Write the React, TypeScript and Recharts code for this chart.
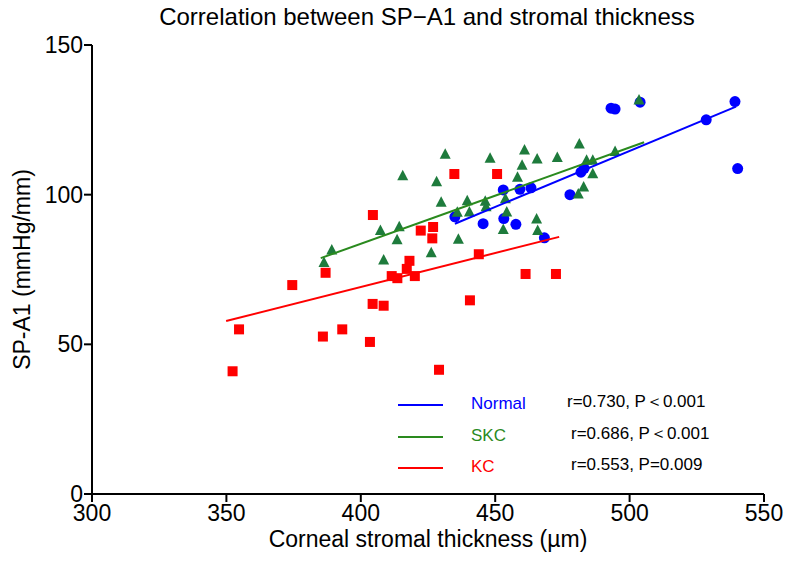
import { ScatterChart, Scatter, XAxis, YAxis } from 'recharts';

// Normal (blue circles)
const normalX = [435.0, 445.5, 453.0, 453.2, 457.7, 459.2, 463.3, 468.3, 477.8, 481.9, 483.1, 493.1, 494.6, 503.9, 528.5, 539.2, 540.2];
const normalY = [92.6, 90.3, 101.6, 92.0, 90.1, 101.8, 102.3, 85.6, 100.0, 107.5, 108.8, 128.9, 128.6, 130.9, 125.0, 131.1, 108.7];

// SKC (green triangles)
const skcX = [386.3, 389.2, 407.3, 408.5, 413.5, 414.3, 415.6, 426.2, 428.2, 431.4, 429.9, 436.3, 435.9, 439.6, 440.4, 446.3, 446.6, 448.1, 453.0, 453.8, 454.3, 458.3, 460.0, 460.9, 465.4, 465.8, 465.6, 473.1, 480.9, 481.3, 482.9, 484.0, 486.3, 486.3, 494.6, 503.5];
const skcY = [77.3, 81.5, 88.0, 78.2, 84.9, 89.3, 106.3, 80.6, 104.3, 113.5, 97.5, 85.1, 94.1, 98.0, 94.2, 97.8, 96.0, 112.2, 88.4, 98.6, 94.2, 105.8, 109.8, 114.9, 91.9, 88.0, 111.9, 112.4, 100.2, 116.9, 102.6, 111.5, 111.5, 107.0, 114.4, 131.6];

// KC (red squares)
const kcX = [352.3, 354.7, 374.5, 385.9, 386.9, 393.1, 403.4, 404.5, 404.4, 408.5, 411.5, 413.6, 417.1, 418.1, 420.1, 422.3, 426.9, 426.6, 429.1, 434.8, 440.6, 443.9, 450.7, 461.3, 472.6];
const kcY = [41.0, 55.0, 69.8, 52.6, 73.9, 55.0, 50.8, 93.2, 63.5, 62.9, 72.8, 72.1, 75.2, 77.9, 72.8, 88.0, 89.2, 85.4, 41.5, 106.9, 64.7, 80.1, 106.9, 73.5, 73.5];

// fitted line end points
const normalFitX = [435.0, 539.6];
const normalFitY = [90.3, 129.4];
const skcFitX = [385.1, 505.4];
const skcFitY = [78.8, 117.5];
const kcFitX = [349.9, 473.8];
const kcFitY = [57.8, 85.9];

const xTicks = [300, 350, 400, 450, 500, 550];
const yTicks = [0, 50, 100, 150];

const groups = ['Normal', 'SKC', 'KC'];
const stats = ['r=0.730, P＜0.001', 'r=0.686, P＜0.001', 'r=0.553, P=0.009'];

const BLUE = '#0000FF';
const GREEN = '#1E7B3C';
const GREEN_LINE = '#2A8A1E';
const RED = '#FF0000';

const zip = (xs: number[], ys: number[]) => xs.map((x, i) => ({ x, y: ys[i] }));

const CircleDot = (p: any) => <circle cx={p.cx} cy={p.cy} r={5.5} fill={BLUE} />;
const SquareDot = (p: any) => <rect x={p.cx - 5} y={p.cy - 5} width={10} height={10} fill={RED} />;
const TriangleDot = (p: any) => (
  <polygon points={`${p.cx},${p.cy - 6} ${p.cx - 5.5},${p.cy + 4.5} ${p.cx + 5.5},${p.cy + 4.5}`} fill={GREEN} />
);
const NoDot = () => <g />;

const font = '"Liberation Sans", Arial, sans-serif';

const App = () => {
  const legendColors = [BLUE, GREEN_LINE, RED];
  const legendTop = [405, 437, 468];
  const statLeft = [567, 571, 571];

  return (
    <div style={styles.page}>
      <div style={styles.title}>Correlation between SP−A1 and stromal thickness</div>
      <ScatterChart width={787} height={561} margin={{ top: 45, right: 23, bottom: 0, left: 0 }}>
        <XAxis
          type="number"
          dataKey="x"
          domain={[300, 550]}
          ticks={xTicks}
          height={67}
          axisLine={{ stroke: '#000', strokeWidth: 2 }}
          tickLine={{ stroke: '#000', strokeWidth: 2 }}
          tickSize={8}
          tickMargin={3}
          tick={{ fill: '#000', fontSize: 23, fontFamily: font }}
          label={{ value: 'Corneal stromal thickness (µm)', position: 'insideBottom', offset: 14, fill: '#000', fontSize: 23, fontFamily: font }}
        />
        <YAxis
          type="number"
          dataKey="y"
          domain={[0, 150]}
          ticks={yTicks}
          width={92}
          axisLine={{ stroke: '#000', strokeWidth: 2 }}
          tickLine={{ stroke: '#000', strokeWidth: 2 }}
          tickSize={8}
          tickMargin={1}
          tick={{ fill: '#000', fontSize: 23, fontFamily: font }}
          label={{ value: 'SP-A1 (mmHg/mm)', angle: -90, position: 'insideLeft', offset: 22, fill: '#000', fontSize: 23, fontFamily: font, style: { textAnchor: 'middle' } }}
        />
        <Scatter data={zip(kcX, kcY)} shape={SquareDot} isAnimationActive={false} />
        <Scatter data={zip(normalX, normalY)} shape={CircleDot} isAnimationActive={false} />
        <Scatter data={zip(skcX, skcY)} shape={TriangleDot} isAnimationActive={false} />
        <Scatter data={zip(kcFitX, kcFitY)} shape={NoDot} line={{ stroke: RED, strokeWidth: 2 }} isAnimationActive={false} />
        <Scatter data={zip(skcFitX, skcFitY)} shape={NoDot} line={{ stroke: GREEN_LINE, strokeWidth: 2 }} isAnimationActive={false} />
        <Scatter data={zip(normalFitX, normalFitY)} shape={NoDot} line={{ stroke: BLUE, strokeWidth: 2 }} isAnimationActive={false} />
      </ScatterChart>
      {groups.map((g, i) => (
        <div key={g}>
          <div style={{ ...styles.legendLine, top: legendTop[i] - 1, background: legendColors[i] }} />
          <div style={{ ...styles.legendText, top: legendTop[i] - 11, left: 471, color: legendColors[i] === GREEN_LINE ? GREEN_LINE : legendColors[i] }}>{g}</div>
          <div style={{ ...styles.legendText, top: legendTop[i] - 13, left: statLeft[i], color: '#000' }}>{stats[i]}</div>
        </div>
      ))}
    </div>
  );
};

const styles: any = {
  page: { position: 'absolute', left: 0, top: 0, width: 787, height: 561, background: '#fff', fontFamily: font },
  title: { position: 'absolute', left: 0, top: 3, width: 854, textAlign: 'center', fontSize: 24, lineHeight: '28px', color: '#000' },
  legendLine: { position: 'absolute', left: 398, width: 45, height: 2 },
  legendText: { position: 'absolute', fontSize: 17, lineHeight: '20px', whiteSpace: 'nowrap' },
};

export default App;
